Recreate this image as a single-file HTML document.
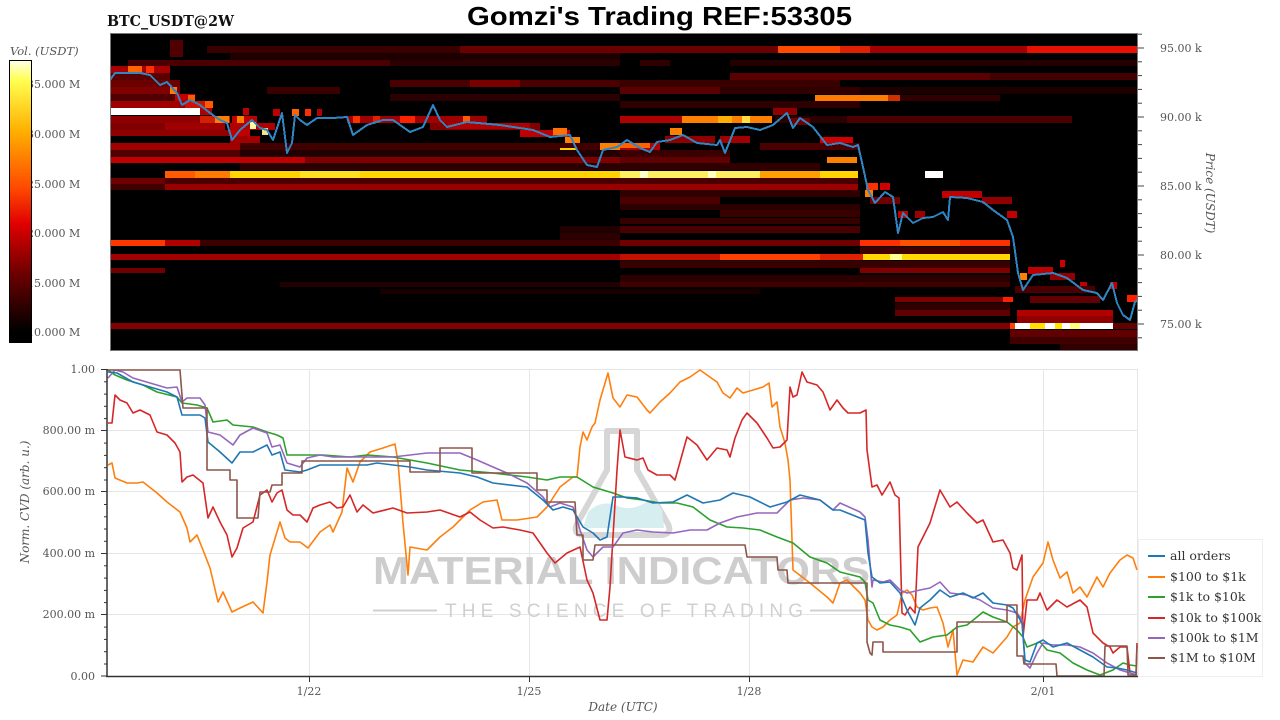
<!DOCTYPE html>
<html><head><meta charset="utf-8"><style>
html,body{margin:0;padding:0;background:#fff;}
svg{display:block;}
.t{font-family:"DejaVu Serif","Liberation Serif",serif;font-size:11px;fill:#555;}
.lg{font-family:"DejaVu Serif","Liberation Serif",serif;font-size:12.5px;fill:#333;}
.ax{font-family:"DejaVu Serif","Liberation Serif",serif;font-size:12px;font-style:italic;fill:#555;}
</style></head><body>
<svg width="1280" height="720" viewBox="0 0 1280 720" xmlns="http://www.w3.org/2000/svg">
<defs>
<linearGradient id="cb" x1="0" y1="0" x2="0" y2="1">
<stop offset="0" stop-color="#ffffe8"/><stop offset="0.07" stop-color="#ffff50"/><stop offset="0.25" stop-color="#ffb000"/><stop offset="0.45" stop-color="#ff4a00"/><stop offset="0.58" stop-color="#e00000"/><stop offset="0.76" stop-color="#6a0000"/><stop offset="0.96" stop-color="#000"/><stop offset="1" stop-color="#000"/>
</linearGradient>
<clipPath id="cp1"><rect x="110" y="33" width="1028" height="318"/></clipPath>
<clipPath id="cp2"><rect x="107" y="368" width="1031" height="309"/></clipPath>
</defs>

<!-- Title -->
<text x="467" y="25" textLength="385" lengthAdjust="spacingAndGlyphs" style="font-family:'Liberation Sans',sans-serif;font-weight:bold;font-size:26px;fill:#000">Gomzi's Trading REF:53305</text>
<text x="107" y="26" textLength="127" lengthAdjust="spacingAndGlyphs" style="font-family:'DejaVu Serif',serif;font-weight:bold;font-size:15px;fill:#111">BTC_USDT@2W</text>

<!-- Colorbar -->
<text x="10" y="55" class="ax" style="font-size:11.5px">Vol. (USDT)</text>
<g class="t">
<text x="27" y="88">35.000 M</text>
<text x="27" y="138">30.000 M</text>
<text x="27" y="188">25.000 M</text>
<text x="27" y="237">20.000 M</text>
<text x="27" y="287">15.000 M</text>
<text x="27" y="336">10.000 M</text>
</g>
<rect x="9.5" y="60.5" width="22" height="282" fill="url(#cb)" stroke="#000" stroke-width="1"/>

<!-- Heatmap -->
<rect x="110" y="33" width="1028" height="318" fill="#000"/>
<g clip-path="url(#cp1)" shape-rendering="crispEdges">
<!-- background dark texture rows -->
<rect x="230" y="53" width="390" height="7" fill="#1e0000"/>
<rect x="730" y="60" width="408" height="6" fill="#250000"/>
<rect x="390" y="94" width="230" height="7" fill="#2a0000"/>
<rect x="860" y="87" width="278" height="7" fill="#1c0000"/>
<rect x="620" y="101" width="240" height="7" fill="#2e0000"/>
<rect x="110" y="150" width="130" height="7" fill="#500000"/>
<rect x="620" y="150" width="110" height="7" fill="#3a0000"/>
<rect x="240" y="163" width="380" height="7" fill="#2a0000"/>
<rect x="620" y="163" width="200" height="7" fill="#300000"/>
<rect x="620" y="204" width="240" height="6" fill="#2a0000"/>
<rect x="620" y="218" width="240" height="6" fill="#350000"/>
<rect x="560" y="233" width="60" height="7" fill="#2a0000"/>
<rect x="860" y="247" width="150" height="7" fill="#400000"/>
<rect x="620" y="261" width="390" height="7" fill="#3a0000"/>
<rect x="620" y="275" width="390" height="7" fill="#2a0000"/>
<rect x="895" y="303" width="115" height="7" fill="#300000"/>
<rect x="380" y="289" width="380" height="5" fill="#180000"/>
<!-- row ~46 -->
<rect x="207" y="46" width="253" height="7" fill="#3a0000"/>
<rect x="460" y="46" width="318" height="7" fill="#6a0000"/>
<rect x="778" y="46" width="62" height="7" fill="#ff4a00"/>
<rect x="840" y="46" width="30" height="7" fill="#e02000"/>
<rect x="870" y="46" width="157" height="7" fill="#a00000"/>
<rect x="1027" y="46" width="111" height="7" fill="#e81000"/>
<rect x="170" y="40" width="13" height="17" fill="#500000"/>
<!-- row ~60 -->
<rect x="128" y="60" width="262" height="6" fill="#4a0000"/>
<rect x="390" y="60" width="230" height="6" fill="#2a0000"/>
<rect x="640" y="60" width="30" height="6" fill="#300000"/>
<!-- row 66 -->
<rect x="110" y="66" width="60" height="7" fill="#a80000"/>
<rect x="128" y="66" width="14" height="7" fill="#ff6400"/>
<rect x="146" y="66" width="8" height="7" fill="#ff3000"/>
<!-- row 73 -->
<rect x="110" y="73" width="60" height="7" fill="#5a0000"/>
<rect x="730" y="73" width="260" height="7" fill="#5a0000"/>
<rect x="990" y="73" width="148" height="7" fill="#420000"/>
<!-- row 80 -->
<rect x="110" y="80" width="70" height="7" fill="#6a0000"/>
<rect x="390" y="80" width="230" height="7" fill="#4a0000"/>
<rect x="470" y="80" width="50" height="7" fill="#7a0000"/>
<rect x="620" y="80" width="220" height="7" fill="#3a0000"/>
<!-- row 87 -->
<rect x="110" y="87" width="70" height="7" fill="#800000"/>
<rect x="170" y="87" width="7" height="7" fill="#ff7a00"/>
<rect x="267" y="87" width="73" height="7" fill="#3a0000"/>
<rect x="620" y="87" width="100" height="7" fill="#5a0000"/>
<rect x="720" y="87" width="140" height="7" fill="#300000"/>
<!-- row 94 -->
<rect x="110" y="94" width="70" height="7" fill="#500000"/>
<rect x="175" y="94" width="20" height="7" fill="#c00000"/>
<rect x="188" y="95" width="7" height="7" fill="#ff5a00"/>
<rect x="815" y="95" width="73" height="6" fill="#ff7a00"/>
<rect x="888" y="95" width="12" height="6" fill="#d03000"/>
<rect x="900" y="95" width="100" height="6" fill="#300000"/>
<!-- row 101 -->
<rect x="110" y="101" width="100" height="7" fill="#a00000"/>
<rect x="185" y="101" width="25" height="7" fill="#d01000"/>
<rect x="205" y="101" width="8" height="7" fill="#ff5a00"/>
<!-- row 108 white -->
<rect x="110" y="108" width="90" height="7" fill="#ffffff"/>
<rect x="200" y="108" width="12" height="7" fill="#b00000"/>
<rect x="243" y="108" width="6" height="7" fill="#c00000"/>
<rect x="273" y="109" width="7" height="7" fill="#c00000"/>
<rect x="292" y="109" width="7" height="7" fill="#ff6400"/>
<rect x="305" y="109" width="6" height="7" fill="#ff3000"/>
<rect x="317" y="109" width="5" height="7" fill="#b00000"/>
<rect x="773" y="108" width="24" height="7" fill="#900000"/>
<!-- row 116 -->
<rect x="110" y="116" width="120" height="7" fill="#900000"/>
<rect x="200" y="116" width="30" height="7" fill="#d02000"/>
<rect x="215" y="116" width="14" height="7" fill="#ff8000"/>
<rect x="232" y="116" width="25" height="7" fill="#c00000"/>
<rect x="237" y="116" width="7" height="7" fill="#ff8000"/>
<rect x="347" y="116" width="140" height="7" fill="#a00000"/>
<rect x="353" y="116" width="7" height="7" fill="#ff3000"/>
<rect x="373" y="116" width="7" height="7" fill="#e02000"/>
<rect x="400" y="116" width="15" height="7" fill="#ff2000"/>
<rect x="463" y="116" width="7" height="7" fill="#ff5a00"/>
<rect x="620" y="116" width="62" height="7" fill="#b00000"/>
<rect x="682" y="116" width="90" height="7" fill="#ff8000"/>
<rect x="718" y="116" width="14" height="7" fill="#ffb000"/>
<rect x="742" y="116" width="8" height="7" fill="#ffe040"/>
<rect x="775" y="116" width="72" height="7" fill="#2a0000"/>
<rect x="847" y="116" width="225" height="7" fill="#4a0000"/>
<rect x="790" y="118" width="20" height="7" fill="#700000"/>
<!-- row 123 -->
<rect x="110" y="123" width="110" height="7" fill="#800000"/>
<rect x="165" y="123" width="60" height="7" fill="#a00000"/>
<rect x="230" y="123" width="45" height="7" fill="#b00000"/>
<rect x="250" y="122" width="6" height="7" fill="#ffffa0"/>
<rect x="430" y="123" width="110" height="7" fill="#800000"/>
<rect x="447" y="123" width="83" height="6" fill="#b00000"/>
<!-- row 130 -->
<rect x="110" y="130" width="120" height="6" fill="#900000"/>
<rect x="230" y="130" width="20" height="6" fill="#c00000"/>
<rect x="262" y="128" width="6" height="7" fill="#ffe080"/>
<rect x="520" y="130" width="50" height="7" fill="#c00000"/>
<rect x="553" y="128" width="14" height="7" fill="#ff7000"/>
<rect x="670" y="128" width="12" height="7" fill="#ff8000"/>
<rect x="665" y="136" width="50" height="7" fill="#900000"/>
<rect x="720" y="136" width="30" height="7" fill="#a00000"/>
<rect x="820" y="137" width="33" height="6" fill="#d00000"/>
<!-- row 136 -->
<rect x="230" y="136" width="30" height="7" fill="#a00000"/>
<rect x="565" y="137" width="15" height="6" fill="#ff8000"/>
<!-- row 143 -->
<rect x="110" y="143" width="130" height="7" fill="#a00000"/>
<rect x="240" y="143" width="380" height="7" fill="#400000"/>
<rect x="600" y="143" width="20" height="7" fill="#ff8000"/>
<rect x="620" y="143" width="40" height="7" fill="#b00000"/>
<rect x="620" y="143" width="30" height="5" fill="#ff6000"/>
<rect x="760" y="143" width="100" height="7" fill="#4a0000"/>
<rect x="560" y="148" width="17" height="7" fill="#ffd000"/>
<!-- row 150 -->
<rect x="240" y="150" width="380" height="7" fill="#200000"/>
<!-- row 157 -->
<rect x="110" y="157" width="195" height="6" fill="#c00000"/>
<rect x="305" y="157" width="315" height="6" fill="#800000"/>
<rect x="620" y="157" width="110" height="6" fill="#600000"/>
<rect x="827" y="157" width="30" height="6" fill="#ff8000"/>
<!-- row 171 yellow -->
<rect x="165" y="171" width="30" height="7" fill="#ff5a00"/>
<rect x="195" y="171" width="35" height="7" fill="#ff7a00"/>
<rect x="230" y="171" width="530" height="7" fill="#ffd400"/>
<rect x="300" y="171" width="60" height="7" fill="#ffe020"/>
<rect x="620" y="171" width="140" height="7" fill="#ffee60"/>
<rect x="640" y="171" width="8" height="7" fill="#ffffd0"/>
<rect x="708" y="171" width="8" height="7" fill="#ffffc0"/>
<rect x="760" y="171" width="60" height="7" fill="#ffa000"/>
<rect x="820" y="171" width="38" height="7" fill="#ffd400"/>
<rect x="925" y="171" width="18" height="7" fill="#ffffff"/>
<!-- row 178-190 -->
<rect x="110" y="178" width="55" height="6" fill="#700000"/>
<rect x="165" y="178" width="693" height="6" fill="#4a0000"/>
<rect x="165" y="184" width="693" height="6" fill="#9a0000"/>
<rect x="110" y="184" width="55" height="6" fill="#400000"/>
<rect x="866" y="183" width="12" height="7" fill="#ff3000"/>
<rect x="865" y="190" width="8" height="7" fill="#ff8000"/>
<rect x="880" y="183" width="10" height="7" fill="#d00000"/>
<rect x="620" y="190" width="240" height="7" fill="#300000"/>
<rect x="870" y="197" width="30" height="7" fill="#700000"/>
<rect x="942" y="191" width="40" height="7" fill="#c00000"/>
<rect x="982" y="197" width="30" height="7" fill="#900000"/>
<rect x="898" y="211" width="10" height="7" fill="#c00000"/>
<rect x="915" y="211" width="10" height="7" fill="#a00000"/>
<rect x="1007" y="211" width="10" height="7" fill="#c00000"/>
<rect x="620" y="197" width="100" height="7" fill="#4a0000"/>
<rect x="720" y="210" width="140" height="7" fill="#3a0000"/>
<rect x="620" y="226" width="240" height="7" fill="#4a0000"/>
<rect x="560" y="226" width="60" height="7" fill="#200000"/>
<!-- row 240 -->
<rect x="110" y="240" width="55" height="6" fill="#ff3800"/>
<rect x="165" y="240" width="35" height="6" fill="#b00000"/>
<rect x="200" y="240" width="420" height="6" fill="#3a0000"/>
<rect x="620" y="240" width="240" height="6" fill="#700000"/>
<rect x="860" y="240" width="150" height="6" fill="#ff3000"/>
<rect x="900" y="240" width="60" height="6" fill="#ff5000"/>
<!-- row 254 -->
<rect x="110" y="254" width="510" height="6" fill="#a00000"/>
<rect x="620" y="254" width="100" height="6" fill="#c41000"/>
<rect x="720" y="254" width="100" height="6" fill="#ff4000"/>
<rect x="820" y="254" width="43" height="6" fill="#e02000"/>
<rect x="863" y="254" width="147" height="6" fill="#ffd800"/>
<rect x="890" y="254" width="12" height="6" fill="#ffff90"/>
<!-- row 268 -->
<rect x="110" y="268" width="55" height="5" fill="#700000"/>
<rect x="860" y="268" width="150" height="5" fill="#800000"/>
<!-- row 282 -->
<rect x="280" y="282" width="340" height="5" fill="#200000"/>
<rect x="620" y="282" width="390" height="5" fill="#400000"/>
<rect x="895" y="297" width="115" height="5" fill="#800000"/>
<rect x="1003" y="297" width="10" height="5" fill="#ff2000"/>
<rect x="895" y="310" width="115" height="6" fill="#600000"/>
<!-- right lower -->
<rect x="1020" y="273" width="7" height="7" fill="#ff8000"/>
<rect x="1028" y="267" width="25" height="7" fill="#c00000"/>
<rect x="1060" y="260" width="5" height="7" fill="#d00000"/>
<rect x="1050" y="273" width="25" height="7" fill="#900000"/>
<rect x="1080" y="282" width="7" height="7" fill="#c00000"/>
<rect x="1110" y="282" width="7" height="7" fill="#c00000"/>
<rect x="1127" y="295" width="11" height="7" fill="#ff2000"/>
<rect x="1015" y="286" width="80" height="7" fill="#4a0000"/>
<rect x="1030" y="296" width="70" height="7" fill="#600000"/>
<rect x="1017" y="310" width="96" height="6" fill="#b00000"/>
<rect x="1017" y="316" width="96" height="7" fill="#900000"/>
<!-- row 323 -->
<rect x="110" y="323" width="900" height="6" fill="#820000"/>
<rect x="1010" y="323" width="5" height="6" fill="#ff4000"/>
<rect x="1015" y="323" width="98" height="6" fill="#ffffff"/>
<rect x="1030" y="323" width="15" height="6" fill="#ffe000"/>
<rect x="1055" y="323" width="7" height="6" fill="#ffe600"/>
<rect x="1070" y="323" width="10" height="6" fill="#ffff80"/>
<rect x="1113" y="323" width="25" height="6" fill="#600000"/>
<rect x="1010" y="330" width="128" height="7" fill="#600000"/>
<rect x="1010" y="337" width="128" height="7" fill="#400000"/>
<rect x="1060" y="344" width="78" height="7" fill="#300000"/>
<!-- price line -->
<polyline fill="none" stroke="#2f86c4" stroke-width="2" stroke-linejoin="round" points="108,83 115,73 140,73 150,75 160,85 167,82 177,93 182,105 190,100 200,105 210,113 220,120 227,123 232,140 240,130 252,120 260,128 267,130 273,140 282,113 287,153 292,143 295,115 300,120 307,125 317,118 333,118 347,117 353,135 367,125 383,120 393,120 410,132 423,127 433,105 440,120 447,127 467,122 500,125 533,130 550,137 570,135 577,150 587,165 597,167 603,150 617,147 620,145 627,140 640,148 650,152 657,142 670,140 683,135 697,143 717,145 720,140 725,153 735,128 747,127 760,130 773,125 787,113 793,128 800,118 813,127 827,145 840,143 853,147 858,145 863,167 868,190 875,203 885,192 893,197 898,233 903,213 913,223 923,218 933,217 943,212 948,220 950,197 967,198 983,202 993,210 1007,220 1013,237 1018,273 1023,290 1033,275 1053,273 1067,278 1083,290 1097,293 1103,300 1112,283 1117,303 1123,315 1130,320 1135,302 1138,300"/>
</g>
<rect x="110.5" y="33.5" width="1027" height="317" fill="none" stroke="#777" stroke-width="1"/>

<!-- right price axis -->
<g stroke="#444" stroke-width="1">
<line x1="1138" y1="48" x2="1144" y2="48"/><line x1="1138" y1="117" x2="1144" y2="117"/><line x1="1138" y1="186" x2="1144" y2="186"/><line x1="1138" y1="255" x2="1144" y2="255"/><line x1="1138" y1="324" x2="1144" y2="324"/>
<line x1="1138" y1="34.2" x2="1142" y2="34.2"/><line x1="1138" y1="61.8" x2="1142" y2="61.8"/><line x1="1138" y1="75.6" x2="1142" y2="75.6"/><line x1="1138" y1="89.4" x2="1142" y2="89.4"/><line x1="1138" y1="103.2" x2="1142" y2="103.2"/>
<line x1="1138" y1="130.8" x2="1142" y2="130.8"/><line x1="1138" y1="144.6" x2="1142" y2="144.6"/><line x1="1138" y1="158.4" x2="1142" y2="158.4"/><line x1="1138" y1="172.2" x2="1142" y2="172.2"/>
<line x1="1138" y1="199.8" x2="1142" y2="199.8"/><line x1="1138" y1="213.6" x2="1142" y2="213.6"/><line x1="1138" y1="227.4" x2="1142" y2="227.4"/><line x1="1138" y1="241.2" x2="1142" y2="241.2"/>
<line x1="1138" y1="268.8" x2="1142" y2="268.8"/><line x1="1138" y1="282.6" x2="1142" y2="282.6"/><line x1="1138" y1="296.4" x2="1142" y2="296.4"/><line x1="1138" y1="310.2" x2="1142" y2="310.2"/><line x1="1138" y1="337.8" x2="1142" y2="337.8"/>
</g>
<g class="t">
<text x="1160" y="52">95.00 k</text>
<text x="1160" y="121">90.00 k</text>
<text x="1160" y="190">85.00 k</text>
<text x="1160" y="259">80.00 k</text>
<text x="1160" y="328">75.00 k</text>
</g>
<text class="ax" transform="translate(1206,193) rotate(90)" text-anchor="middle">Price (USDT)</text>

<!-- Bottom chart -->
<g stroke="#e6e6e6" stroke-width="1">
<line x1="107" y1="369.5" x2="1138" y2="369.5"/>
<line x1="107" y1="430.5" x2="1138" y2="430.5"/>
<line x1="107" y1="491.5" x2="1138" y2="491.5"/>
<line x1="107" y1="553.5" x2="1138" y2="553.5"/>
<line x1="107" y1="614.5" x2="1138" y2="614.5"/>
<line x1="309.5" y1="369" x2="309.5" y2="676"/>
<line x1="529.5" y1="369" x2="529.5" y2="676"/>
<line x1="749.5" y1="369" x2="749.5" y2="676"/>
<line x1="1043.5" y1="369" x2="1043.5" y2="676"/>
<line x1="1137.5" y1="369" x2="1137.5" y2="676"/>
</g>

<!-- watermark -->
<g>
<path d="M607,431 L637,431 L637,470 L668,524 Q673,535 660,535 L585,535 Q572,535 577,524 L607,470 Z" fill="none" stroke="#d6d6d6" stroke-width="6" stroke-linejoin="round"/>
<path d="M588,512 Q600,500 615,505 Q630,512 645,503 Q656,498 662,510 L664,528 L583,528 Z" fill="#d7eef0"/>
<text x="373" y="584" textLength="497" lengthAdjust="spacingAndGlyphs" style="font-family:'Liberation Sans',sans-serif;font-weight:bold;font-size:39px;fill:#cdcdcd">MATERIAL INDICATORS</text>
<text x="445" y="617" textLength="358" lengthAdjust="spacing" style="font-family:'Liberation Sans',sans-serif;font-size:19px;fill:#d0d0d0">THE SCIENCE OF TRADING</text>
<line x1="373" y1="610.5" x2="437" y2="610.5" stroke="#d0d0d0" stroke-width="2"/>
<line x1="810" y1="610.5" x2="870" y2="610.5" stroke="#d0d0d0" stroke-width="2"/>
</g>

<g clip-path="url(#cp2)" fill="none" stroke-width="1.6" stroke-linejoin="round">
<polyline stroke="#ff7f0e" points="108,465 112,463 115,478 127,483 137,483 143,482 157,493 167,502 180,512 187,528 190,542 197,535 203,550 210,568 218,602 223,592 232,612 240,608 253,602 263,613 267,582 270,555 280,522 285,538 290,542 300,542 308,548 320,532 330,525 333,532 342,512 347,468 353,482 360,462 370,452 383,448 395,444 398,462 403,523 408,575 410,547 427,550 440,537 453,527 470,510 483,502 497,500 502,520 517,520 537,517 547,507 560,487 573,477 577,477 580,447 583,432 587,440 592,427 595,423 600,400 608,373 613,398 620,407 627,395 637,397 647,410 650,413 660,402 670,393 680,382 690,377 700,370 707,375 717,382 723,393 730,398 737,388 743,393 753,390 763,387 769,383 772,407 777,402 780,427 785,443 788,460 790,480 793,570 810,583 827,597 833,603 840,583 847,580 860,593 865,600 868,620 872,627 877,630 883,627 890,620 897,615 902,593 907,590 912,595 917,607 923,610 930,608 937,607 943,623 948,647 953,630 957,675 963,660 973,662 983,647 993,653 1007,637 1013,627 1020,623 1025,600 1033,577 1043,563 1048,542 1053,560 1060,578 1067,572 1073,593 1080,587 1087,597 1097,577 1103,587 1110,573 1120,560 1127,555 1133,558 1137,570"/>
<polyline stroke="#2ca02c" points="108,370 115,375 127,380 143,385 157,392 177,397 182,403 197,405 207,408 213,422 227,420 233,425 253,427 267,432 277,435 283,438 287,455 300,455 323,455 350,457 367,455 393,457 427,463 460,470 493,473 527,477 547,480 560,477 577,477 593,487 613,493 627,498 643,500 660,503 677,503 693,507 710,520 727,527 743,528 760,530 777,537 793,543 810,557 827,563 840,572 860,577 865,582 868,600 873,603 880,620 890,625 900,627 910,630 920,642 933,637 947,635 957,627 967,625 977,617 983,612 993,617 1007,622 1017,630 1023,637 1027,647 1040,642 1047,650 1060,653 1073,663 1087,670 1100,675 1113,670 1123,663 1130,665 1137,666"/>
<polyline stroke="#d62728" points="108,423 112,423 115,395 120,400 127,403 133,413 140,410 150,415 157,432 167,435 175,443 180,452 182,482 187,477 193,475 203,483 208,518 213,507 220,522 227,535 232,557 237,548 243,528 253,522 260,495 267,490 272,502 277,493 282,490 287,510 293,515 300,515 307,522 313,508 320,505 330,502 337,508 343,507 350,495 357,512 363,505 373,513 393,508 407,513 427,512 440,510 460,517 470,512 480,520 493,528 503,527 520,530 533,533 547,553 555,563 567,553 580,547 587,580 593,593 600,620 607,620 610,587 617,470 620,430 625,457 637,460 643,458 648,470 657,475 670,475 675,480 687,437 697,445 707,460 717,448 727,450 730,457 735,438 742,420 747,413 757,423 767,438 773,448 780,447 787,440 790,387 793,397 797,395 802,372 807,382 817,385 823,392 830,410 837,400 843,408 848,413 860,413 866,410 867,450 872,487 877,485 882,495 890,482 895,495 899,498 902,613 905,615 910,607 915,613 918,547 923,537 930,523 940,490 950,507 957,502 967,513 977,523 983,520 993,542 1003,540 1010,553 1013,568 1017,570 1022,555 1023,637 1027,600 1037,600 1040,593 1047,610 1057,600 1067,607 1080,600 1087,607 1093,633 1103,643 1110,647 1113,653 1120,647 1127,647 1130,673 1136,675 1137,643"/>
<polyline stroke="#9467bd" points="108,378 115,370 123,372 133,378 150,383 167,388 177,387 182,402 187,398 200,398 205,405 208,432 220,435 233,445 240,435 253,428 267,433 272,447 280,445 287,463 300,467 307,458 320,455 333,457 367,457 393,457 427,453 460,453 477,460 493,467 507,473 527,483 543,497 550,507 560,503 573,507 580,530 587,550 593,557 603,547 613,547 623,533 637,530 653,532 673,533 690,530 707,530 720,523 737,517 757,513 777,513 790,500 803,498 820,500 833,510 840,503 860,512 865,517 868,540 872,587 873,580 883,582 890,580 900,590 907,593 920,590 930,588 940,582 950,593 967,595 980,600 993,608 1007,610 1017,613 1022,620 1025,663 1030,668 1037,653 1043,643 1053,645 1067,645 1080,647 1093,653 1107,663 1120,670 1130,673 1137,675"/>
<polyline stroke="#1f77b4" points="108,372 117,373 133,382 150,387 167,392 177,397 182,415 187,415 200,415 205,418 208,442 220,452 232,463 240,452 253,452 267,445 272,455 280,452 285,470 300,472 307,470 320,465 333,465 367,465 377,463 393,465 410,467 427,470 460,473 477,477 493,483 527,487 543,500 553,510 563,507 573,510 583,527 593,533 600,540 607,537 613,497 623,497 637,498 653,503 673,502 687,495 703,503 720,500 733,493 750,497 770,507 787,502 800,495 820,500 833,510 840,510 860,518 865,520 868,553 872,577 880,583 890,582 900,593 907,610 915,625 920,608 930,600 940,590 950,597 963,593 973,598 983,593 993,603 1007,605 1013,608 1022,623 1025,660 1030,662 1037,643 1043,640 1053,647 1067,643 1080,650 1093,657 1107,667 1117,668 1127,670 1137,673"/>
<polyline stroke="#8c564b" points="107,370 180,370 183,408 207,408 207,470 230,470 230,480 237,480 237,518 258,518 260,492 270,492 272,485 282,485 282,473 302,473 302,461 410,461 410,472 440,472 440,448 472,448 472,473 537,473 537,490 547,490 547,502 575,502 577,535 583,535 583,560 593,560 595,545 745,545 747,557 777,557 778,570 787,570 788,583 867,583 867,642 870,653 872,655 873,642 883,642 883,652 957,652 957,622 1007,622 1007,605 1017,605 1017,656 1023,656 1024,664 1056,664 1057,676 1104,676 1105,646 1127,646 1128,675 1136,675 1137,646"/>
</g>

<!-- spines -->
<line x1="107" y1="369" x2="107" y2="677" stroke="#333" stroke-width="1.5"/>
<line x1="106" y1="676.5" x2="1138" y2="676.5" stroke="#333" stroke-width="1.5"/>
<g stroke="#333" stroke-width="1">
<line x1="101" y1="369.5" x2="107" y2="369.5"/><line x1="101" y1="430.5" x2="107" y2="430.5"/><line x1="101" y1="491.5" x2="107" y2="491.5"/><line x1="101" y1="553.5" x2="107" y2="553.5"/><line x1="101" y1="614.5" x2="107" y2="614.5"/><line x1="101" y1="676" x2="107" y2="676"/>
<line x1="104" y1="381.8" x2="107" y2="381.8"/><line x1="104" y1="394.1" x2="107" y2="394.1"/><line x1="104" y1="406.3" x2="107" y2="406.3"/><line x1="104" y1="418.6" x2="107" y2="418.6"/>
<line x1="104" y1="443.1" x2="107" y2="443.1"/><line x1="104" y1="455.4" x2="107" y2="455.4"/><line x1="104" y1="467.7" x2="107" y2="467.7"/><line x1="104" y1="480" x2="107" y2="480"/>
<line x1="104" y1="504.5" x2="107" y2="504.5"/><line x1="104" y1="516.8" x2="107" y2="516.8"/><line x1="104" y1="529" x2="107" y2="529"/><line x1="104" y1="541.3" x2="107" y2="541.3"/>
<line x1="104" y1="565.8" x2="107" y2="565.8"/><line x1="104" y1="578.1" x2="107" y2="578.1"/><line x1="104" y1="590.4" x2="107" y2="590.4"/><line x1="104" y1="602.6" x2="107" y2="602.6"/>
<line x1="104" y1="627.1" x2="107" y2="627.1"/><line x1="104" y1="639.4" x2="107" y2="639.4"/><line x1="104" y1="651.7" x2="107" y2="651.7"/><line x1="104" y1="664" x2="107" y2="664"/>
<line x1="309.5" y1="676" x2="309.5" y2="682"/><line x1="529.5" y1="676" x2="529.5" y2="682"/><line x1="749.5" y1="676" x2="749.5" y2="682"/><line x1="1043.5" y1="676" x2="1043.5" y2="682"/>
</g>
<g class="t" text-anchor="end">
<text x="95" y="373">1.00</text>
<text x="95" y="434">800.00 m</text>
<text x="95" y="495">600.00 m</text>
<text x="95" y="557">400.00 m</text>
<text x="95" y="618">200.00 m</text>
<text x="95" y="680">0.00</text>
</g>
<g class="t" text-anchor="middle">
<text x="309" y="695">1/22</text>
<text x="529" y="695">1/25</text>
<text x="749" y="695">1/28</text>
<text x="1043" y="695">2/01</text>
</g>
<text class="ax" x="623" y="711" text-anchor="middle">Date (UTC)</text>
<text class="ax" transform="translate(29,502) rotate(-90)" text-anchor="middle">Norm. CVD (arb. u.)</text>

<!-- legend -->
<rect x="1138.5" y="539.5" width="124" height="137" fill="#fff" stroke="#eeeeee"/>
<g stroke-width="2">
<line x1="1148" y1="556" x2="1165" y2="556" stroke="#1f77b4"/>
<line x1="1148" y1="577" x2="1165" y2="577" stroke="#ff7f0e"/>
<line x1="1148" y1="597" x2="1165" y2="597" stroke="#2ca02c"/>
<line x1="1148" y1="618" x2="1165" y2="618" stroke="#d62728"/>
<line x1="1148" y1="638" x2="1165" y2="638" stroke="#9467bd"/>
<line x1="1148" y1="658" x2="1165" y2="658" stroke="#8c564b"/>
</g>
<g class="lg">
<text x="1170" y="560">all orders</text>
<text x="1170" y="581">$100 to $1k</text>
<text x="1170" y="601">$1k to $10k</text>
<text x="1170" y="622">$10k to $100k</text>
<text x="1170" y="642">$100k to $1M</text>
<text x="1170" y="662">$1M to $10M</text>
</g>
</svg>
</body></html>
